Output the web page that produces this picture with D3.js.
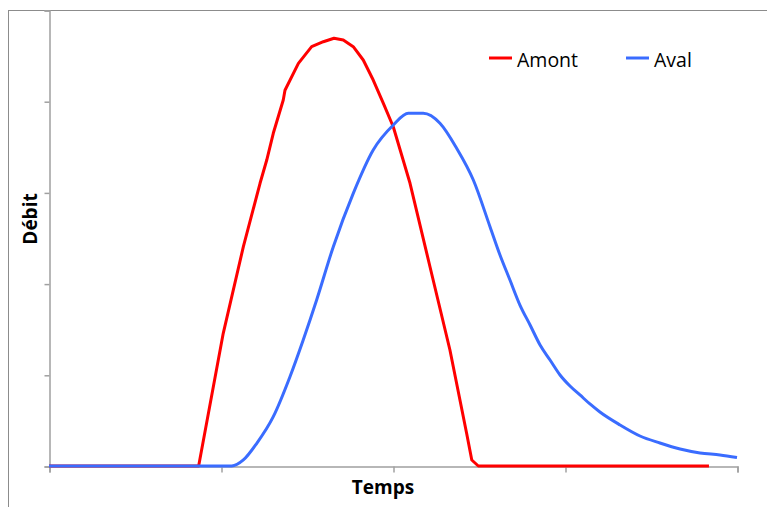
<!DOCTYPE html>
<html>
<head>
<meta charset="utf-8">
<script src="https://cdn.jsdelivr.net/npm/d3@7"></script>
<style>
  html, body { margin: 0; padding: 0; background: #fff; }
  svg { display: block; }
  text { font-family: "Open Sans", "Noto Sans", sans-serif; }
</style>
</head>
<body>
<svg id="chart" width="767" height="507"></svg>
<script>
// Hydrograph: discharge upstream (Amont) vs downstream (Aval) over time
const seriesNames = ["Amont", "Aval"];
const seriesColors = ["#ff0000", "#3a6cff"];

const amontTime  = [0, 87, 101.3, 113, 122.7, 126.6, 130.4, 136.2, 137.2, 145, 152.7, 159.5, 165.7, 171.1, 176.9, 182.7, 188.5, 194.4, 200.2, 209.9, 221.5, 233.1, 242.8, 245.8, 249.6, 383.7];
const amontValue = [0, 0, 1.455, 2.405, 3.10, 3.355, 3.648, 4.013, 4.12, 4.415, 4.598, 4.652, 4.69, 4.671, 4.598, 4.452, 4.232, 3.977, 3.717, 3.10, 2.185, 1.272, 0.359, 0.066, 0, 0];

const avalTime  = [0, 106.2, 113, 120.8, 130.4, 140.1, 147.8, 155.6, 165.3, 176.9, 188.5, 200.2, 208.9, 217.6, 227.3, 237, 246.7, 256.4, 262.2, 268, 273.8, 279.7, 285.5, 291.3, 297.1, 302.9, 308.7, 314.5, 320.3, 332, 343.6, 355.2, 366.9, 378.5, 390.1, 400];
const avalValue = [0, 0, 0.066, 0.249, 0.541, 0.979, 1.382, 1.82, 2.405, 2.99, 3.465, 3.739, 3.867, 3.867, 3.758, 3.484, 3.136, 2.624, 2.314, 2.039, 1.765, 1.546, 1.327, 1.162, 0.998, 0.877, 0.779, 0.68, 0.592, 0.45, 0.329, 0.252, 0.186, 0.143, 0.121, 0.093];

const xTicks = [0, 100, 200, 300, 400];
const yTicks = [0, 1, 2, 3, 4, 5];

const svg = d3.select("#chart");

// chart frame (extends beyond the visible area on the right and bottom)
svg.append("rect")
  .attr("x", 8.5).attr("y", 10.5)
  .attr("width", 800).attr("height", 600)
  .attr("fill", "none").attr("stroke", "#8c8c8c").attr("stroke-width", 1);

const plot = { left: 49, right: 737, top: 10, bottom: 466 };

const x = d3.scaleLinear().domain([0, 400]).range([plot.left, plot.right]);
const y = d3.scaleLinear().domain([0, 5]).range([plot.bottom, plot.top]);

// axes
const xAxis = d3.axisBottom(x).tickValues(xTicks).tickSize(6).tickFormat("");
const yAxis = d3.axisLeft(y).tickValues(yTicks).tickSize(5).tickFormat("");

const gx = svg.append("g").attr("transform", `translate(0.5,${plot.bottom + 0.5})`).call(xAxis);
const gy = svg.append("g").attr("transform", `translate(${plot.left + 0.5},0.5)`).call(yAxis);
[gx, gy].forEach(g => {
  g.selectAll("path.domain").attr("stroke", "#a0a0a0").attr("stroke-width", 1.5);
  g.selectAll(".tick line").attr("stroke", "#a0a0a0").attr("stroke-width", 1.5);
});

// series lines: the upstream wave keeps its sharp rise and cut-off,
// the attenuated downstream wave is drawn smooth
const curves = [d3.curveLinear, d3.curveMonotoneX];
const series = [
  d3.zip(amontTime, amontValue),
  d3.zip(avalTime, avalValue)
];
series.forEach((pts, i) => {
  const line = d3.line().x(d => x(d[0])).y(d => y(d[1])).curve(curves[i]);
  svg.append("path")
    .datum(pts)
    .attr("d", line)
    .attr("fill", "none")
    .attr("stroke", seriesColors[i])
    .attr("stroke-width", 3)
    .attr("stroke-linejoin", "round");
});

// legend
const legendX = [489, 626];
seriesNames.forEach((name, i) => {
  const g = svg.append("g").attr("transform", `translate(${legendX[i]},58)`);
  g.append("line").attr("x1", 0).attr("x2", 23).attr("y1", 0).attr("y2", 0)
    .attr("stroke", seriesColors[i]).attr("stroke-width", 3);
  g.append("text").attr("x", 28).attr("y", 8.5)
    .attr("font-size", 19.5).attr("fill", "#000").text(name);
});

// axis titles
svg.append("text")
  .attr("x", 383).attr("y", 494)
  .attr("text-anchor", "middle")
  .attr("font-size", 19).attr("font-weight", "bold")
  .text("Temps");

svg.append("text")
  .attr("transform", "translate(37,219) rotate(-90)")
  .attr("text-anchor", "middle")
  .attr("font-size", 19).attr("font-weight", "bold")
  .text("Débit");
</script>
</body>
</html>
